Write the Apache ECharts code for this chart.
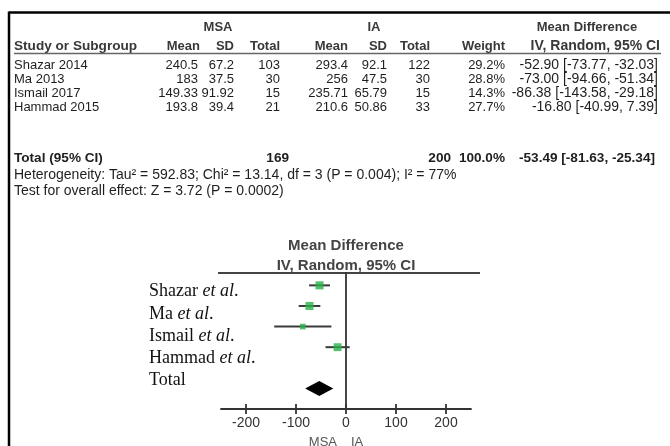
<!DOCTYPE html>
<html><head><meta charset="utf-8">
<script src="https://cdn.jsdelivr.net/npm/echarts@6/dist/echarts.min.js"></script>
<style>html,body{margin:0;padding:0;background:#fff}#c{width:670px;height:446px}</style>
</head><body><div id="c"></div>
<script>
// ---- data ----
const studies   = ['Shazar 2014', 'Ma 2013', 'Ismail 2017', 'Hammad 2015'];
const msaMean   = ['240.5', '183', '149.33', '193.8'];
const msaSD     = ['67.2', '37.5', '91.92', '39.4'];
const msaTotal  = [103, 30, 15, 21];
const iaMean    = ['293.4', '256', '235.71', '210.6'];
const iaSD      = ['92.1', '47.5', '65.79', '50.86'];
const iaTotal   = [122, 30, 15, 33];
const weight    = [29.2, 28.8, 14.3, 27.7];
const md        = [-52.90, -73.00, -86.38, -16.80];
const ciLow     = [-73.77, -94.66, -143.58, -40.99];
const ciHigh    = [-32.03, -51.34, -29.18, 7.39];
const totalMSA  = 169;
const totalIA   = 200;
const totalWeight = 100.0;
const totalMD   = -53.49;
const totalLow  = -81.63;
const totalHigh = -25.34;
const heterogeneity = 'Heterogeneity: Tau² = 592.83; Chi² = 13.14, df = 3 (P = 0.004); I² = 77%';
const overallEffect = 'Test for overall effect: Z = 3.72 (P = 0.0002)';
const plotNames = ['Shazar', 'Ma', 'Ismail', 'Hammad'];
const plotRows  = [0, 1, 2, 3];
const totalRow  = 5;
const xTicks    = [-200, -100, 0, 100, 200];

// ---- layout helpers ----
const FONT = '"Liberation Sans", Arial, sans-serif';
const txtColor = '#1e1e1e';
const hdrColor = '#383838';
const fmtCI = (m, l, h) => m.toFixed(2) + ' [' + l.toFixed(2) + ', ' + h.toFixed(2) + ']';

const g = [];
function T(text, x, y, align, opts) {
  opts = opts || {};
  g.push({
    type: 'text', silent: true,
    style: {
      text: text, x: x, y: y, textAlign: align || 'left', textVerticalAlign: 'middle',
      fill: opts.fill || txtColor, fontFamily: opts.family || FONT,
      fontSize: opts.size || 13, fontWeight: opts.weight || 'normal'
    }
  });
}
function L(x1, y1, x2, y2, w, c) {
  g.push({ type: 'line', silent: true, shape: { x1, y1, x2, y2 }, style: { stroke: c || '#000', lineWidth: w || 1 } });
}

// frame
L(9, 12.5, 670, 12.5, 2.5, '#000');
L(9, 11.5, 9, 446, 2.5, '#000');

// table header
const H = { size: 13, weight: 'bold', fill: hdrColor };
T('MSA', 218, 27, 'center', H);
T('IA', 374, 27, 'center', H);
T('Mean Difference', 587, 27, 'center', H);
const hy = 46.5;
T('Study or Subgroup', 14, hy, 'left', Object.assign({}, H, { size: 13.6 }));
T('Mean', 200, hy, 'right', H);
T('SD', 234, hy, 'right', H);
T('Total', 280, hy, 'right', H);
T('Mean', 348, hy, 'right', H);
T('SD', 387, hy, 'right', H);
T('Total', 430, hy, 'right', H);
T('Weight', 505, hy, 'right', H);
T('IV, Random, 95% CI', 660, hy, 'right', Object.assign({}, H, { size: 14 }));
L(14, 53.5, 661, 53.5, 1.5, '#666');

// study rows
const N = { size: 13 };
studies.forEach((s, i) => {
  const y = 65 + i * 14.2;
  T(s, 14, y, 'left', { size: 13 });
  T(msaMean[i], 198, y, 'right', N);
  T(msaSD[i], 234, y, 'right', N);
  T(String(msaTotal[i]), 280, y, 'right', N);
  T(iaMean[i], 348, y, 'right', N);
  T(iaSD[i], 387, y, 'right', N);
  T(String(iaTotal[i]), 430, y, 'right', N);
  T(weight[i].toFixed(1) + '%', 505, y, 'right', N);
  T(fmtCI(md[i], ciLow[i], ciHigh[i]), 658, y, 'right', { size: 14 });
});

// total rows
const B = { weight: 'bold', size: 13.6 };
T('Total (95% CI)', 14, 158, 'left', B);
T(String(totalMSA), 289, 158, 'right', B);
T(String(totalIA), 451, 158, 'right', B);
T(totalWeight.toFixed(1) + '%', 505, 158, 'right', B);
T(fmtCI(totalMD, totalLow, totalHigh), 655, 158, 'right', B);
T(heterogeneity, 14, 175, 'left', { size: 14 });
T(overallEffect, 14, 191, 'left', { size: 14 });

// plot titles
T('Mean Difference', 346, 246, 'center', { size: 15, weight: 'bold', fill: '#444' });
T('IV, Random, 95% CI', 346, 265.5, 'center', { size: 15, weight: 'bold', fill: '#444' });
L(218, 273, 480, 273, 2, '#444');

// study labels (serif with italic et al.)
plotNames.concat(['Total']).forEach((n, i) => {
  const y = 291.5 + i * 22.3;
  const txt = n === 'Total' ? '{r|Total}' : '{r|' + n + ' }{i|et al}{r|.}';
  g.push({
    type: 'text', silent: true,
    style: {
      text: txt, x: 149, y: y, textVerticalAlign: 'middle',
      rich: {
        r: { fontFamily: '"Liberation Serif", "Times New Roman", serif', fontSize: 18, fill: '#111', fontStyle: 'normal' },
        i: { fontFamily: '"Liberation Serif", "Times New Roman", serif', fontSize: 18, fill: '#111', fontStyle: 'italic' }
      }
    }
  });
});

// axis name
T('MSA', 337, 442, 'right', { size: 13, fill: '#555' });
T('IA', 351, 442, 'left', { size: 13, fill: '#555' });

// ---- chart ----
const chart = echarts.init(document.getElementById('c'), null, { renderer: 'canvas' });
const axisLineStyle = { color: '#333', width: 1.8 };
chart.setOption({
  animation: false,
  backgroundColor: '#fff',
  grid: { left: 221, width: 250, top: 273, height: 136, containLabel: false },
  xAxis: [
    {
      type: 'value', min: -250, max: 250, position: 'bottom',
      axisLine: { show: true, onZero: false, lineStyle: axisLineStyle },
      axisTick: { show: true, customValues: xTicks, length: 5, lineStyle: axisLineStyle },
      axisLabel: { show: true, customValues: xTicks, fontFamily: FONT, fontSize: 14, color: '#333', margin: 7 },
      splitLine: { show: false }
    },
    {
      type: 'value', min: -250, max: 250, position: 'bottom', offset: 0,
      axisLine: { show: false, onZero: false },
      axisTick: { show: true, inside: true, customValues: xTicks, length: 5, lineStyle: axisLineStyle },
      axisLabel: { show: false },
      splitLine: { show: false }
    }
  ],
  yAxis: {
    type: 'value', inverse: true, min: -0.6, max: 6,
    axisLine: { show: true, onZero: true, lineStyle: axisLineStyle },
    axisTick: { show: false }, axisLabel: { show: false }, splitLine: { show: false }
  },
  series: [
    {
      type: 'custom', xAxisIndex: 0,
      data: plotRows.map((r, i) => [ciLow[i], ciHigh[i], r]),
      encode: { x: [0, 1], y: 2 },
      renderItem: function (params, api) {
        const a = api.coord([api.value(0), api.value(2)]);
        const b = api.coord([api.value(1), api.value(2)]);
        return { type: 'line', shape: { x1: a[0], y1: a[1], x2: b[0], y2: b[1] }, style: { stroke: '#3a3a3a', lineWidth: 2 } };
      },
      z: 2
    },
    {
      type: 'scatter', xAxisIndex: 0,
      symbol: 'rect',
      data: plotRows.map((r, i) => [md[i], r, weight[i]]),
      symbolSize: v => Math.sqrt(v[2]) * 1.5,
      itemStyle: { color: '#2bb24a' },
      z: 3
    },
    {
      type: 'custom', xAxisIndex: 0,
      data: [[totalLow, totalMD, totalHigh, totalRow]],
      encode: { x: [0, 1, 2], y: 3 },
      renderItem: function (params, api) {
        const l = api.coord([api.value(0), api.value(3)]);
        const m = api.coord([api.value(1), api.value(3)]);
        const h = api.coord([api.value(2), api.value(3)]);
        const hh = 7.5;
        return { type: 'polygon', shape: { points: [[l[0], l[1]], [m[0], m[1] - hh], [h[0], h[1]], [m[0], m[1] + hh]] }, style: { fill: '#000' } };
      },
      z: 3
    }
  ],
  graphic: g
});
</script></body></html>
